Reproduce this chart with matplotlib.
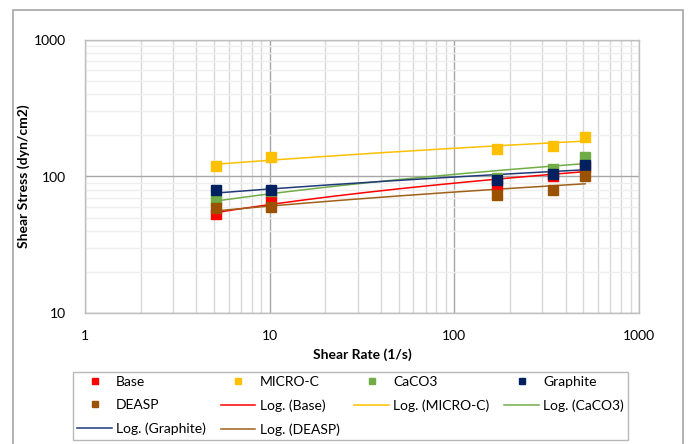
import numpy as np
import matplotlib
matplotlib.use('Agg')
import matplotlib.pyplot as plt
from matplotlib.patches import Rectangle
from matplotlib.ticker import LogLocator, NullFormatter, FixedLocator, FixedFormatter

plt.rcParams['font.family'] = ['Lato', 'DejaVu Sans']

# shear rate (1/s) from the viscometer speeds
shear_rate = [5.11, 10.22, 170.3, 340.6, 511.0]

# shear stress (dyn/cm2)
base = [53, 67, 87, 100, 118]
micro_c = [120, 139, 158, 168, 196]
caco3 = [67, 78, 98, 113, 139]
graphite = [79, 80, 95, 105, 122]
deasp = [59, 60, 73.5, 79, 100]

names = ['Base', 'MICRO-C', 'CaCO3', 'Graphite', 'DEASP']
series = [base, micro_c, caco3, graphite, deasp]
marker_colors = ['#FF0000', '#FFC000', '#70AD47', '#002060', '#9A5200']
line_colors = ['#FF0000', '#FFC000', '#70AD47', '#1F3A78', '#A0601A']

fig = plt.figure(figsize=(6.89, 4.44), dpi=100)
ax = fig.add_axes([85/689, 1-313/444, (639-85)/689, (313-40)/444])

# outer chart frame
fig.patches.append(Rectangle((13/689, -0.02), (683-13)/689, 1.02-10/444,
                             transform=fig.transFigure, fill=False,
                             edgecolor='#A6A6A6', linewidth=1.2))

x = np.array(shear_rate)
xs = np.linspace(x.min(), x.max(), 300)
marker_handles = []
line_handles = []
for name, ys, mc, lc in zip(names, series, marker_colors, line_colors):
    ys = np.array(ys, dtype=float)
    h, = ax.plot(x, ys, linestyle='none', marker='s', markersize=6.5,
                 color=mc, zorder=4)
    marker_handles.append(h)
    # Excel logarithmic trendline: y = a*ln(x) + b
    a, b = np.polyfit(np.log(x), ys, 1)
    l, = ax.plot(xs, a*np.log(xs) + b, color=lc, linewidth=1.1, zorder=3)
    line_handles.append(l)

ax.set_xscale('log')
ax.set_yscale('log')
ax.set_xlim(1, 1000)
ax.set_ylim(10, 1000)

ax.xaxis.set_major_locator(FixedLocator([1, 10, 100, 1000]))
ax.xaxis.set_major_formatter(FixedFormatter(['1', '10', '100', '1000']))
ax.yaxis.set_major_locator(FixedLocator([10, 100, 1000]))
ax.yaxis.set_major_formatter(FixedFormatter(['10', '100', '1000']))
ax.xaxis.set_minor_locator(LogLocator(base=10, subs=np.arange(2, 10)))
ax.yaxis.set_minor_locator(LogLocator(base=10, subs=np.arange(2, 10)))
ax.xaxis.set_minor_formatter(NullFormatter())
ax.yaxis.set_minor_formatter(NullFormatter())

ax.xaxis.grid(True, which='major', color='#A6A6A6', linewidth=1.0)
ax.yaxis.grid(True, which='major', color='#A6A6A6', linewidth=1.0)
ax.xaxis.grid(True, which='minor', color='#D9D9D9', linewidth=1.0)
ax.yaxis.grid(True, which='minor', color='#EEEEEE', linewidth=1.0)
ax.set_axisbelow(True)

for s in ax.spines.values():
    s.set_color('#BFBFBF')
    s.set_linewidth(1.0)

ax.tick_params(axis='both', which='both', length=0, labelsize=10,
               colors='#000000')
ax.tick_params(axis='x', pad=12)
ax.tick_params(axis='y', pad=14)

ax.set_xlabel('Shear Rate (1/s)', fontsize=10, fontweight='bold', labelpad=5)
ax.set_ylabel('Shear Stress (dyn/cm2)', fontsize=10, fontweight='bold')
ax.yaxis.set_label_coords((30-85)/554, 0.5)

# legend entries in Excel's row order, arranged for column-major filling
log_labels = ['Log. (%s)' % n for n in names]
order_h = [marker_handles[0], marker_handles[4], line_handles[3],
           marker_handles[1], line_handles[0], line_handles[4],
           marker_handles[2], line_handles[1],
           marker_handles[3], line_handles[2]]
order_l = [names[0], names[4], log_labels[3],
           names[1], log_labels[0], log_labels[4],
           names[2], log_labels[1],
           names[3], log_labels[2]]
leg = fig.legend(order_h, order_l, ncol=4, loc='lower left',
                 bbox_to_anchor=(73/689, 4/444, (628-73)/689, (440-367)/444),
                 mode='expand', fontsize=10, frameon=True, fancybox=False,
                 edgecolor='#A6A6A6', handlelength=2.5, handletextpad=0.3,
                 borderaxespad=0, borderpad=0.3, labelspacing=0.82,
                 columnspacing=0.8, markerscale=0.75)
leg.get_frame().set_linewidth(1.0)

fig.savefig('out.png', dpi=100)
